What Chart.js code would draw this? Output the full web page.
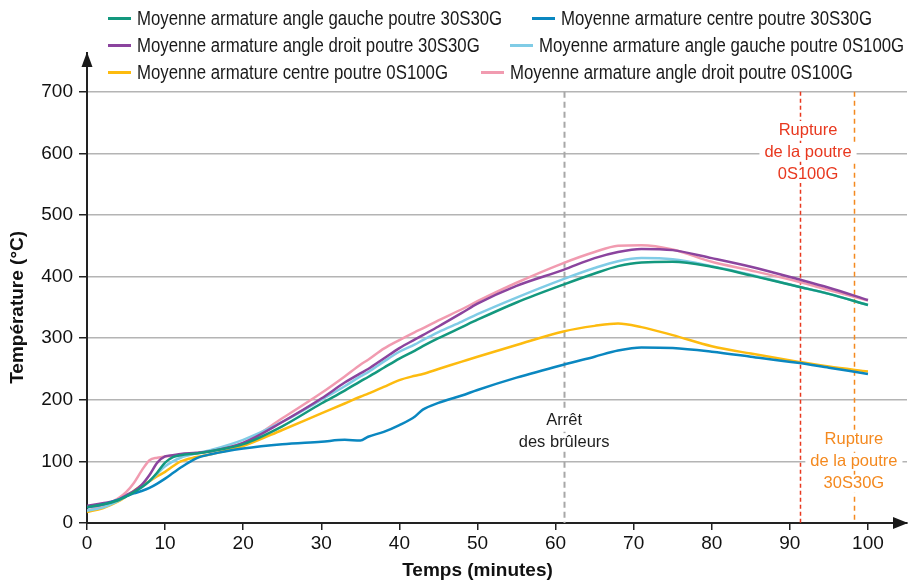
<!DOCTYPE html>
<html>
<head>
<meta charset="utf-8">
<script src="https://cdn.jsdelivr.net/npm/chart.js@4/dist/chart.umd.min.js"></script>
<style>
  html, body { margin: 0; padding: 0; background: #fff; }
  #wrap { position: relative; width: 910px; height: 583px; }
  #legend { position: absolute; left: 0; top: 0; width: 910px; height: 90px; pointer-events: none;
    font-family: 'Liberation Sans', Arial, sans-serif; font-size: 20px; color: #1a1a1a; }
  .item { position: absolute; white-space: nowrap; display: flex; align-items: center; height: 24px; }
  .item i { display: inline-block; width: 23px; height: 3px; margin-right: 6px; }
  .item span { display: inline-block; transform: scaleX(0.84); transform-origin: left center; }
</style>
</head>
<body>
<div id="wrap">
  <canvas id="chart" width="910" height="583"></canvas>
  <div id="legend"></div>
</div>
<script>
// time in minutes
const times = [0, 2, 4, 5, 6, 7, 8, 9, 10, 11, 12, 14, 16, 20, 25, 30, 33, 35, 36, 38, 40, 42, 43, 45, 48, 50, 55, 61, 65, 68, 71, 75, 80, 85, 91, 95, 100];

const gaucheA = [26, 30, 37, 43, 50, 58, 68, 82, 98, 107, 110, 113, 117, 128, 157, 194, 215, 230, 237, 252, 267, 280, 287, 300, 318, 330, 358, 387, 405, 417, 423, 424, 416, 402, 384, 372, 354];
const centreA = [25, 30, 38, 43, 48, 52, 57, 64, 72, 81, 90, 105, 112, 121, 128, 132, 135, 134, 140, 148, 159, 173, 184, 195, 207, 216, 236, 257, 270, 280, 285, 284, 278, 270, 260, 252, 242];
const droitA = [28, 32, 38, 45, 52, 62, 78, 98, 108, 110, 112, 114, 117, 130, 164, 202, 228, 243, 250, 267, 284, 298, 305, 319, 341, 356, 385, 411, 430, 440, 445, 443, 430, 416, 396, 382, 362];
const gaucheB = [20, 25, 36, 43, 50, 58, 68, 80, 92, 100, 106, 113, 119, 135, 164, 200, 222, 238, 245, 262, 278, 290, 297, 310, 327, 339, 366, 396, 414, 425, 430, 428, 417, 403, 384, 372, 354];
const centreB = [18, 24, 35, 43, 52, 61, 68, 76, 83, 92, 100, 107, 112, 125, 151, 178, 194, 205, 210, 221, 232, 239, 242, 250, 262, 270, 289, 311, 320, 324, 318, 305, 287, 275, 262, 254, 246];
const droitB = [20, 28, 40, 50, 65, 85, 102, 106, 108, 109, 110, 113, 117, 130, 170, 211, 238, 257, 265, 283, 297, 310, 316, 329, 347, 360, 390, 422, 440, 450, 451, 444, 424, 410, 392, 378, 361];

const xTicks = [0, 10, 20, 30, 40, 50, 60, 70, 80, 90, 100];
const yTicks = [0, 100, 200, 300, 400, 500, 600, 700];

// events: burners off, failure 0S100G, failure 30S30G
const eventTimes = [61.1, 91.3, 98.2];

const series = [
  { label: 'Moyenne armature angle gauche poutre 30S30G', data: gaucheA, color: '#13987e' },
  { label: 'Moyenne armature centre poutre 30S30G', data: centreA, color: '#0a87c0' },
  { label: 'Moyenne armature angle droit poutre 30S30G', data: droitA, color: '#8b449e' },
  { label: 'Moyenne armature angle gauche poutre 0S100G', data: gaucheB, color: '#80cce6' },
  { label: 'Moyenne armature centre poutre 0S100G', data: centreB, color: '#fdbb0f' },
  { label: 'Moyenne armature angle droit poutre 0S100G', data: droitB, color: '#f19bb0' },
];

// legend, laid out like the original (two items per row)
const legendPos = [[108, 6], [532, 6], [108, 33], [510, 33], [108, 60], [481, 60]];
const legend = document.getElementById('legend');
series.forEach((s, i) => {
  const d = document.createElement('div');
  d.className = 'item';
  d.style.left = legendPos[i][0] + 'px';
  d.style.top = legendPos[i][1] + 'px';
  d.innerHTML = '<i style="background:' + s.color + '"></i><span></span>';
  d.querySelector('span').textContent = s.label;
  legend.appendChild(d);
});

const eventPlugin = {
  id: 'events',
  beforeDatasetsDraw(chart) {
    const { ctx, scales: { x, y } } = chart;
    const styles = [
      { color: '#a8a8a8', dash: [6, 4], width: 2 },
      { color: '#e8381f', dash: [4, 3], width: 1.5 },
      { color: '#f4891f', dash: [5, 4], width: 1.5 },
    ];
    ctx.save();
    eventTimes.forEach((t, i) => {
      const px = Math.round(x.getPixelForValue(t)) + 0.5;
      ctx.strokeStyle = styles[i].color;
      ctx.lineWidth = styles[i].width;
      ctx.setLineDash(styles[i].dash);
      ctx.beginPath();
      ctx.moveTo(px, y.getPixelForValue(700));
      ctx.lineTo(px, y.getPixelForValue(0));
      ctx.stroke();
    });
    ctx.restore();
  },
  afterDatasetsDraw(chart) {
    const { ctx, scales: { x, y } } = chart;
    const notes = [
      { lines: ['Arrêt', 'des brûleurs'], t: eventTimes[0], dx: 0, top: 167, color: '#1e1e1e' },
      { lines: ['Rupture', 'de la poutre', '0S100G'], t: eventTimes[1], dx: 8, top: 638, color: '#e8381f' },
      { lines: ['Rupture', 'de la poutre', '30S30G'], t: eventTimes[2], dx: 0, top: 135, color: '#f4891f' },
    ];
    ctx.save();
    ctx.font = '16.5px "Liberation Sans", Arial, sans-serif';
    ctx.textAlign = 'center';
    ctx.textBaseline = 'middle';
    notes.forEach(n => {
      const cx = x.getPixelForValue(n.t) + n.dx;
      const y0 = y.getPixelForValue(n.top);
      n.lines.forEach((txt, k) => {
        const cy = y0 + k * 22;
        const w = ctx.measureText(txt).width;
        ctx.fillStyle = '#fff';
        ctx.fillRect(cx - w / 2 - 5, cy - 9, w + 10, 18);
        ctx.fillStyle = n.color;
        ctx.fillText(txt, cx, cy);
      });
    });

    // axis titles, centred on the 0-100 / 0-700 span
    ctx.fillStyle = '#111';
    ctx.font = 'bold 19px "Liberation Sans", Arial, sans-serif';
    ctx.fillText('Temps (minutes)', (x.getPixelForValue(0) + x.getPixelForValue(100)) / 2, 571);
    ctx.translate(18, (y.getPixelForValue(0) + y.getPixelForValue(700)) / 2);
    ctx.rotate(-Math.PI / 2);
    ctx.fillText('Température (°C)', 0, 0);
    ctx.restore();
  },
  afterDraw(chart) {
    const { ctx, chartArea: a } = chart;
    ctx.save();
    ctx.fillStyle = '#1a1a1a';
    ctx.beginPath();
    ctx.moveTo(a.right + 1, a.bottom);
    ctx.lineTo(a.right - 14, a.bottom - 6);
    ctx.lineTo(a.right - 14, a.bottom + 6);
    ctx.closePath();
    ctx.fill();
    ctx.beginPath();
    ctx.moveTo(a.left, a.top - 1);
    ctx.lineTo(a.left - 5.5, a.top + 14);
    ctx.lineTo(a.left + 5.5, a.top + 14);
    ctx.closePath();
    ctx.fill();
    ctx.restore();
  },
};

const tickFont = { family: '"Liberation Sans", Arial, sans-serif', size: 19 };

new Chart(document.getElementById('chart'), {
  type: 'line',
  data: {
    datasets: series.map(s => ({
      label: s.label,
      data: times.map((t, i) => ({ x: t, y: s.data[i] })),
      borderColor: s.color,
      backgroundColor: s.color,
      borderWidth: 2.5,
      pointRadius: 0,
      tension: 0.4,
      cubicInterpolationMode: 'monotone',
      fill: false,
    })),
  },
  options: {
    responsive: false,
    animation: false,
    events: [],
    layout: { padding: { top: 53, right: 3, left: 0, bottom: 0 } },
    plugins: { legend: { display: false }, tooltip: { enabled: false } },
    scales: {
      x: {
        type: 'linear',
        min: 0,
        max: 105,
        afterFit: s => { s.height = 60; },
        afterBuildTicks: s => { s.ticks = xTicks.map(v => ({ value: v })); },
        ticks: { color: '#111', font: tickFont, padding: 2, maxRotation: 0 },
        grid: { drawOnChartArea: false, tickColor: '#222', tickLength: 7, lineWidth: 1.5 },
        border: { color: '#222', width: 2 },
      },
      y: {
        min: 0,
        max: 763,
        afterFit: s => { s.width = 87; },
        afterBuildTicks: s => { s.ticks = yTicks.map(v => ({ value: v })); },
        ticks: { color: '#111', font: tickFont, padding: 6 },
        grid: { color: '#b4b4b4', lineWidth: 1.5, tickColor: '#222', tickLength: 8 },
        border: { color: '#222', width: 2 },
      },
    },
  },
  plugins: [eventPlugin],
});
</script>
</body>
</html>
